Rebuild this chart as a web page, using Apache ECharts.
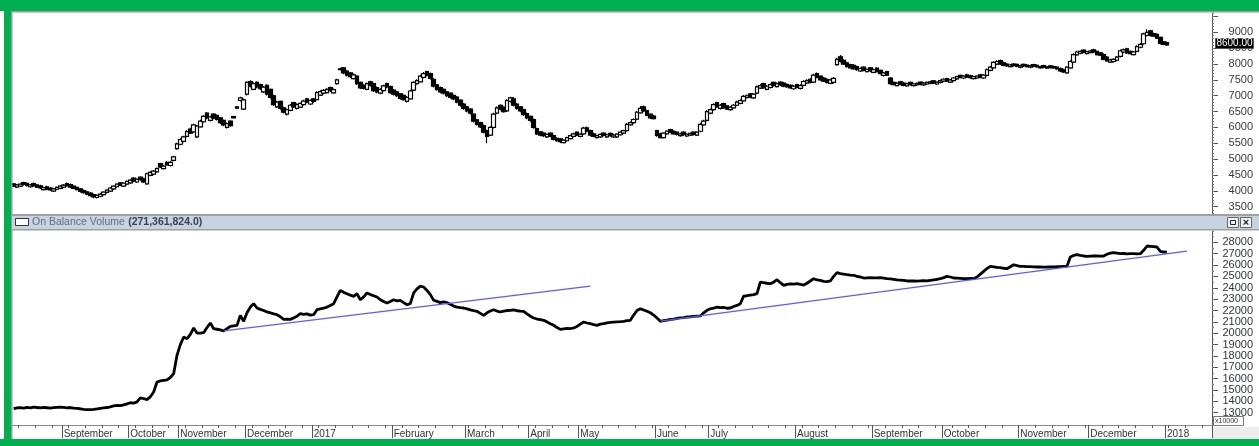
<!DOCTYPE html>
<html><head><meta charset="utf-8">
<script src="https://cdn.jsdelivr.net/npm/echarts@6/dist/echarts.min.js"></script>
<style>html,body{margin:0;padding:0;background:#fff}#c{width:1259px;height:446px}</style>
</head><body><div id="c"></div>
<script>
// ---- price candles (one per trading day) ----
const openP = [
4220,4120,4150,4260,4240,4130,4230,4190,4160,4040,
4130,4090,3990,4050,4080,4120,4230,4200,4150,4110,
4060,4010,3970,3930,3880,3790,3830,3880,3950,3990,
4060,4130,4250,4150,4210,4250,4400,4280,4430,4380,
4220,4490,4530,4600,4860,4700,4900,4800,4960,5330,
5470,5560,5720,5950,5860,5700,6020,6180,6450,6220,
6420,6380,6300,6220,6000,6200,6300,6610,6850,6580,
7050,7450,7200,7420,7350,7120,7330,7200,7000,6650,
6820,6620,6420,6540,6780,6600,6640,6720,6900,6740,
6900,6880,7020,7080,7100,7260,7090,7380,7820,7880,
7780,7720,7540,7620,7420,7330,7200,7440,7380,7260,
7080,7160,7380,7290,7180,7120,7060,7010,6820,6900,
7180,7380,7440,7580,7760,7700,7520,7340,7260,7200,
7120,7080,7010,6960,6860,6740,6650,6580,6420,6240,
6150,6060,5900,5760,6000,6450,6700,6640,6520,6820,
6900,6740,6650,6560,6440,6350,6250,5960,5860,5820,
5700,5820,5740,5660,5640,5520,5580,5650,5720,5850,
5720,5800,5990,5900,5800,5680,5700,5820,5700,5810,
5700,5700,5770,5820,5900,6080,6150,6260,6460,6650,
6530,6420,6360,5900,5800,5680,5800,5930,5880,5850,
5740,5850,5730,5760,5850,5760,5880,6080,6220,6450,
6560,6780,6600,6750,6680,6560,6620,6700,6760,6840,
6940,7060,6930,7080,7240,7380,7200,7260,7420,7290,
7430,7400,7360,7330,7220,7350,7230,7330,7400,7520,
7430,7700,7620,7560,7520,7390,7420,7980,8230,8120,
8040,7980,7960,7920,7780,7900,7760,7880,7740,7870,
7800,7640,7760,7560,7420,7320,7440,7400,7310,7420,
7320,7340,7430,7340,7370,7390,7470,7370,7420,7460,
7540,7430,7480,7530,7640,7560,7660,7630,7540,7560,
7660,7560,7640,7800,7880,8000,8110,8040,8000,7920,
8000,7990,7900,7990,7970,7900,7980,7960,7880,7950,
7870,7940,7920,7900,7860,7820,7720,7880,8060,8290,
8340,8440,8330,8360,8450,8400,8350,8300,8220,8060,
8080,8120,8240,8380,8480,8400,8300,8400,8530,8640,
8900,9050,8960,8940,8840,8700,8680
];
const closeP = [
4150,4190,4210,4200,4170,4190,4160,4120,4090,4100,
4050,4030,4060,4110,4150,4180,4160,4120,4080,4040,
3980,3940,3900,3850,3810,3860,3900,3960,4020,4090,
4150,4210,4180,4240,4300,4340,4310,4370,4350,4280,
4540,4580,4620,4700,4750,4780,4820,4900,5075,5480,
5620,5700,5870,5820,6080,6040,6200,6350,6300,6330,
6290,6250,6150,6080,6120,6060,6340,6650,6930,6870,
7420,7300,7380,7280,7220,7270,7050,6950,6720,6800,
6600,6480,6560,6700,6650,6720,6760,6830,6800,6850,
6820,7100,7130,7170,7200,7160,7190,7500,7850,7720,
7650,7600,7660,7380,7250,7240,7380,7330,7160,7120,
7200,7310,7280,7100,7050,7000,6920,6880,6950,7150,
7420,7480,7620,7700,7650,7550,7300,7200,7120,7080,
7000,6950,6900,6800,6700,6600,6520,6450,6200,6100,
6020,5850,5720,6000,6420,6620,6580,6500,6850,6930,
6700,6600,6520,6400,6300,6220,6000,5800,5760,5740,
5780,5720,5620,5580,5550,5600,5680,5740,5800,5760,
5790,5980,5880,5760,5720,5740,5780,5750,5770,5740,
5760,5790,5850,5900,6100,6150,6250,6480,6600,6520,
6380,6300,6280,5750,5680,5820,5880,5850,5800,5780,
5800,5770,5790,5810,5780,5850,6100,6200,6500,6560,
6720,6650,6700,6620,6580,6640,6700,6800,6850,6980,
7000,6950,7050,7280,7320,7250,7300,7350,7320,7380,
7340,7300,7280,7250,7300,7260,7320,7450,7480,7420,
7650,7580,7500,7460,7420,7500,7550,8150,8080,8000,
7920,7880,7850,7820,7860,7800,7830,7780,7820,7760,
7700,7720,7650,7380,7350,7400,7360,7330,7380,7350,
7370,7390,7360,7400,7420,7440,7400,7430,7480,7520,
7460,7500,7560,7600,7580,7620,7590,7570,7600,7620,
7580,7650,7820,7900,8050,8080,8000,7960,7940,7970,
7950,7930,7950,7940,7920,7950,7930,7910,7920,7900,
7910,7890,7880,7850,7780,7750,7900,8080,8300,8380,
8400,8370,8390,8410,8380,8300,8280,8150,8100,8130,
8150,8220,8420,8450,8350,8330,8380,8550,8620,8950,
9000,8900,8880,8820,8650,8620,8600
];
const lowP = [
4120,4090,4120,4170,4140,4100,4130,4090,4060,4010,
4020,4000,3960,4020,4050,4090,4130,4090,4050,4010,
3950,3910,3870,3820,3770,3760,3800,3850,3920,3960,
4030,4100,4150,4120,4180,4220,4280,4250,4320,4250,
4190,4460,4500,4570,4720,4670,4790,4770,4930,5300,
5440,5530,5690,5790,5830,5670,5990,6150,6260,6190,
6260,6220,6110,6040,5970,6020,6280,6580,6820,6550,
7010,7260,7170,7240,7180,7090,7010,6910,6680,6610,
6560,6440,6380,6510,6610,6570,6610,6690,6760,6710,
6780,6850,6990,7050,7070,7120,7060,7350,7800,7680,
7610,7560,7510,7340,7210,7200,7170,7290,7120,7080,
7050,7130,7240,7060,7010,6960,6880,6840,6790,6870,
7150,7350,7410,7550,7610,7510,7260,7160,7080,7040,
6960,6910,6860,6760,6660,6560,6480,6410,6160,6060,
5980,5810,5500,5730,5970,6420,6540,6460,6490,6790,
6660,6560,6480,6360,6260,6180,5960,5760,5720,5700,
5670,5690,5590,5550,5510,5490,5550,5620,5690,5730,
5690,5770,5850,5720,5690,5650,5670,5720,5670,5710,
5670,5670,5740,5790,5870,6050,6120,6230,6430,6490,
6350,6270,6250,5710,5650,5650,5770,5820,5770,5750,
5710,5740,5700,5730,5750,5730,5850,6050,6190,6420,
6530,6620,6570,6590,6550,6530,6590,6670,6730,6810,
6910,6920,6900,7050,7210,7220,7170,7230,7290,7260,
7310,7270,7250,7220,7190,7230,7200,7300,7370,7390,
7400,7550,7470,7430,7390,7360,7390,7950,8050,7970,
7890,7850,7820,7790,7750,7770,7730,7750,7710,7730,
7670,7610,7620,7350,7320,7290,7330,7300,7280,7320,
7290,7310,7330,7310,7340,7360,7370,7340,7390,7430,
7430,7400,7450,7500,7550,7530,7560,7540,7510,7530,
7550,7530,7610,7770,7850,7970,7970,7930,7910,7890,
7920,7900,7870,7910,7890,7870,7900,7880,7850,7870,
7840,7860,7850,7820,7750,7720,7690,7850,8030,8260,
8310,8340,8300,8330,8350,8270,8250,8120,8070,8030,
8050,8090,8210,8350,8320,8300,8270,8370,8500,8610,
8870,8870,8850,8790,8620,8590,8570
];
const highP = [
4250,4220,4240,4290,4260,4220,4260,4210,4190,4130,
4160,4120,4090,4140,4180,4220,4260,4230,4180,4140,
4090,4040,4000,3960,3910,3890,3930,3990,4050,4120,
4180,4240,4280,4270,4330,4370,4430,4400,4460,4410,
4570,4620,4660,4740,4890,4820,4930,4940,5110,5520,
5660,5740,5910,5990,6120,6080,6240,6390,6490,6370,
6450,6410,6330,6250,6160,6230,6370,6680,6970,6910,
7460,7490,7420,7460,7380,7310,7360,7230,7030,6840,
6850,6650,6600,6740,6810,6760,6790,6870,6930,6880,
6930,7140,7170,7210,7240,7290,7230,7540,7880,7910,
7810,7750,7700,7650,7450,7360,7420,7470,7410,7290,
7240,7350,7410,7320,7210,7150,7090,7040,6990,7190,
7460,7520,7660,7750,7790,7730,7550,7370,7290,7230,
7150,7110,7040,6990,6890,6770,6680,6610,6450,6270,
6180,6090,5930,6040,6460,6660,6730,6670,6890,6970,
6960,6770,6680,6590,6470,6380,6280,5990,5890,5850,
5810,5850,5770,5690,5670,5630,5710,5770,5830,5880,
5820,6020,6030,5930,5830,5770,5810,5850,5800,5840,
5790,5820,5880,5930,6140,6190,6290,6520,6680,6690,
6560,6450,6390,5930,5830,5850,5910,5960,5910,5880,
5830,5880,5820,5840,5880,5880,6140,6240,6540,6600,
6760,6810,6740,6780,6710,6680,6740,6840,6890,7020,
7040,7090,7080,7320,7360,7410,7340,7390,7450,7420,
7460,7430,7390,7360,7340,7380,7360,7490,7520,7550,
7690,7730,7650,7590,7550,7540,7590,8200,8284,8150,
8070,8010,7990,7950,7890,7930,7860,7910,7850,7900,
7830,7750,7790,7590,7450,7430,7470,7430,7410,7450,
7400,7420,7460,7430,7450,7470,7500,7460,7510,7550,
7570,7530,7590,7630,7670,7650,7690,7660,7630,7650,
7690,7680,7860,7940,8090,8120,8140,8070,8030,8000,
8030,8020,7980,8020,8000,7980,8010,7990,7950,7980,
7940,7970,7950,7930,7890,7850,7930,8120,8340,8420,
8430,8470,8420,8440,8480,8430,8380,8330,8250,8160,
8180,8250,8460,8490,8510,8430,8410,8590,8660,8990,
9095,9080,8990,8970,8870,8730,8710
];
// ---- On Balance Volume (x10000) ----
const obv = [
13360,13420,13450,13400,13480,13430,13500,13460,13420,13470,
13440,13400,13450,13480,13500,13470,13430,13460,13410,13380,
13350,13300,13280,13270,13290,13330,13380,13420,13460,13520,
13600,13650,13620,13700,13780,13880,13850,13950,14300,14250,
14150,14400,14830,15700,15800,15850,15900,16100,16440,18050,
19000,19670,19520,19900,20460,20020,20000,20050,20500,20900,
20400,20350,20300,20200,20400,20600,20650,20690,21570,21050,
21800,22300,22600,22220,22100,22000,21870,21800,21700,21630,
21450,21220,21250,21220,21350,21500,21720,21650,21700,21600,
21630,22070,22150,22200,22300,22450,22600,23200,23770,23600,
23480,23350,23250,23480,22950,23200,23540,23400,23300,23190,
22950,22800,22660,22800,22950,22850,22900,22700,22510,22600,
23550,23900,24150,24070,23770,23400,22900,22800,22690,22750,
22690,22550,22390,22300,22250,22220,22150,22050,21980,21930,
21750,21570,21800,21950,22070,21950,21870,21950,22000,22020,
22050,21980,21950,21930,21700,21500,21340,21250,21200,21140,
21000,20840,20700,20500,20340,20380,20420,20400,20460,20600,
20800,20990,20900,20840,20760,20690,20800,20850,20920,20950,
20980,21000,21020,21050,21100,21140,21600,22000,22160,22050,
21930,21800,21600,21340,21050,21100,21150,21220,21250,21300,
21350,21380,21430,21450,21480,21500,21520,21800,22020,22150,
22200,22300,22250,22280,22200,22220,22350,22450,22600,23270,
23300,23350,23400,23480,24510,24450,24400,24360,24500,24710,
24450,24210,24300,24350,24330,24360,24300,24240,24400,24600,
24800,24700,24650,24570,24550,24600,25000,25330,25250,25200,
25150,25120,25100,25000,24950,24860,24880,24900,24880,24870,
24890,24850,24800,24780,24740,24700,24680,24650,24600,24610,
24600,24580,24600,24620,24600,24650,24700,24750,24800,24900,
25010,24950,24860,24850,24830,24810,24800,24820,24800,24950,
25200,25450,25700,25890,25850,25800,25770,25720,25680,25850,
26030,25950,25890,25880,25860,25870,25850,25830,25840,25820,
25830,25850,25830,25860,25870,25890,25900,26710,26850,26910,
26850,26800,26770,26790,26810,26800,26790,26800,26950,27050,
27090,27050,27000,27020,26990,27000,27010,26990,27000,27300,
27680,27650,27620,27590,27210,27150,27136
];
// ---- trend lines drawn on the OBV panel: [day index, value] ----
const trend1 = [[63, 20200], [173, 24150]];
const trend2 = [[194, 21070], [352, 27230]];
// ---- axis labels ----
const monthStarts = [15,35,50,70,90,114,136,155,170,193,209,235,258,279,302,323,346];
const monthLabels = ['September','October','November','December','2017','February','March','April','May','June','July','August','September','October','November','December','2018'];
const priceLabels = [3500,4000,4500,5000,5500,6000,6500,7000,7500,8000,8500,9000];
const priceMajorTicks = [3500,4000,4500,5000,5500,6000,6500,7000,7500,8000,8500,9000,9500];
const obvLabels = [13000,14000,15000,16000,17000,18000,19000,20000,21000,22000,23000,24000,25000,26000,27000,28000];
const panelTitle = 'On Balance Volume';
const panelValue = '(271,361,824.0)';
const lastPriceText = '8600.00';
const unitText = 'x10000';
const TOTAL_SLOTS = 360;

const FONT = "'Liberation Sans', Arial, sans-serif";
const cats = Array.from({length: TOTAL_SLOTS}, (_, i) => String(i));
const ohlc = openP.map((o, i) => [o, closeP[i], lowP[i], highP[i]]);
const priceMinor = []; for (let v = 3300; v <= 9600; v += 100) priceMinor.push(v);
const obvMinor = []; for (let v = 12000; v <= 29000; v += 500) obvMinor.push(v);
const isMonth = (i) => monthStarts.indexOf(i) >= 0;
const plain = (v) => String(Math.round(v));

const chart = echarts.init(document.getElementById('c'), null, {renderer: 'canvas', width: 1259, height: 446});

const baseGraphics = [
  {type:'rect', shape:{x:0,y:0,width:1259,height:11}, style:{fill:'#00b050'}, z:200},
  {type:'rect', shape:{x:4,y:0,width:7,height:446}, style:{fill:'#00b050'}, z:200},
  {type:'rect', shape:{x:0,y:439,width:1259,height:7}, style:{fill:'#00b050'}, z:200},
  {type:'rect', shape:{x:11,y:11,width:1248,height:1.5}, style:{fill:'#9a9a9a'}, z:150},
  {type:'rect', shape:{x:11,y:11,width:1.5,height:428}, style:{fill:'#9a9a9a'}, z:150},
  {type:'rect', shape:{x:12,y:214,width:1247,height:2}, style:{fill:'#a0a0a0'}, z:150},
  {type:'rect', shape:{x:12,y:216,width:1247,height:13}, style:{fill:'#c6d3e1'}, z:150},
  {type:'rect', shape:{x:12,y:229,width:1247,height:1.5}, style:{fill:'#a0a0a0'}, z:150},
  {type:'rect', shape:{x:15.5,y:218.5,width:13,height:7}, style:{fill:'#fff', stroke:'#333', lineWidth:1}, z:160},
  {type:'text', x:32, y:222.5, style:{text:'{a|' + panelTitle + '} {b|' + panelValue + '}', verticalAlign:'middle',
     rich:{a:{fill:'#5f6f82', font:"10.5px " + FONT}, b:{fill:'#3a4350', font:"bold 10.5px " + FONT}}}, z:160},
  {type:'rect', shape:{x:1227.5,y:217.5,width:11,height:10}, style:{fill:'#eef2f6', stroke:'#666', lineWidth:1}, z:160},
  {type:'rect', shape:{x:1230.5,y:220.5,width:5,height:4}, style:{fill:'none', stroke:'#222', lineWidth:1}, z:161},
  {type:'rect', shape:{x:1240.5,y:217.5,width:11,height:10}, style:{fill:'#eef2f6', stroke:'#666', lineWidth:1}, z:160},
  {type:'text', x:1246, y:223, style:{text:'×', fill:'#222', font:"bold 11px " + FONT, align:'center', verticalAlign:'middle'}, z:161},
  {type:'rect', shape:{x:1213,y:427,width:46,height:12}, style:{fill:'#ececec'}, z:140},
  {type:'rect', shape:{x:1213.5,y:416.5,width:30,height:9}, style:{fill:'#fff', stroke:'#777', lineWidth:1}, z:160},
  {type:'text', x:1215, y:421, style:{text:unitText, fill:'#333', font:"7px " + FONT, verticalAlign:'middle'}, z:161}
];

chart.setOption({
  animation: false,
  backgroundColor: '#fff',
  grid: [
    {left: 12, right: 47, top: 13, height: 201},
    {left: 12, right: 47, top: 231, height: 194}
  ],
  xAxis: [
    {type:'category', gridIndex:0, data:cats, boundaryGap:true, show:false},
    {type:'category', gridIndex:1, data:cats, boundaryGap:true, position:'bottom',
      axisLine:{show:true, lineStyle:{color:'#8a8a8a', width:1}},
      axisTick:{show:true, interval:(i)=>isMonth(i), length:13, lineStyle:{color:'#555'}},
      axisLabel:{show:true, interval:(i)=>isMonth(i), formatter:(v, i)=>{const k = monthStarts.indexOf(i); return k >= 0 ? monthLabels[k] : '';},
        align:'left', margin:4, fontSize:10, color:'#333', fontFamily:FONT}},
    {type:'category', gridIndex:1, data:cats, boundaryGap:true, position:'bottom', offset:0,
      axisLine:{show:false},
      axisTick:{show:true, interval:(i)=>i % 5 === 2, length:3, lineStyle:{color:'#555'}},
      axisLabel:{show:false}}
  ],
  yAxis: [
    {type:'value', gridIndex:0, position:'right', min:3270, max:9610, splitLine:{show:false},
      axisLine:{show:true, lineStyle:{color:'#555'}},
      axisTick:{show:true, inside:false, length:6, customValues:priceMajorTicks, lineStyle:{color:'#555'}},
      axisLabel:{show:true, customValues:priceLabels, formatter:plain, align:'right', margin:41, fontSize:11, color:'#3a3a3a', fontFamily:FONT}},
    {type:'value', gridIndex:0, position:'right', min:3270, max:9610, splitLine:{show:false},
      axisLine:{show:false},
      axisTick:{show:true, inside:false, length:2, customValues:priceMinor, lineStyle:{color:'#777'}},
      axisLabel:{show:false}},
    {type:'value', gridIndex:1, position:'right', min:11920, max:29000, splitLine:{show:false},
      axisLine:{show:true, lineStyle:{color:'#555'}},
      axisTick:{show:true, inside:false, length:6, customValues:obvLabels, lineStyle:{color:'#555'}},
      axisLabel:{show:true, customValues:obvLabels, formatter:plain, align:'right', margin:41, fontSize:11, color:'#2f3440', fontFamily:FONT}},
    {type:'value', gridIndex:1, position:'right', min:11920, max:29000, splitLine:{show:false},
      axisLine:{show:false},
      axisTick:{show:true, inside:false, length:2, customValues:obvMinor, lineStyle:{color:'#777'}},
      axisLabel:{show:false}}
  ],
  series: [
    {type:'candlestick', xAxisIndex:0, yAxisIndex:0, data:ohlc, barWidth:4,
      itemStyle:{color:'#ffffff', color0:'#000000', borderColor:'#000000', borderColor0:'#000000', borderWidth:1.2}},
    {type:'line', xAxisIndex:1, yAxisIndex:2, data:obv, showSymbol:false, symbol:'none',
      lineStyle:{color:'#000', width:2.8}, z:3},
    {type:'line', xAxisIndex:1, yAxisIndex:2, data:trend1, symbol:'none', lineStyle:{color:'#5a5aff', width:1.2}, z:4},
    {type:'line', xAxisIndex:1, yAxisIndex:2, data:trend2, symbol:'none', lineStyle:{color:'#5a5aff', width:1.2}, z:4}
  ],
  graphic: baseGraphics
});

const lastY = chart.convertToPixel({yAxisIndex: 0}, closeP[closeP.length - 1]);
chart.setOption({
  graphic: baseGraphics.concat([
    {type:'rect', shape:{x:1215.5, y:lastY - 6.5, width:38, height:10}, style:{fill:'#000', stroke:'#555', lineWidth:1}, z:170},
    {type:'text', x:1234.5, y:lastY - 1.5, style:{text:lastPriceText, fill:'#fff', font:"10px " + FONT, align:'center', verticalAlign:'middle'}, z:171}
  ])
});
</script>
</body></html>
